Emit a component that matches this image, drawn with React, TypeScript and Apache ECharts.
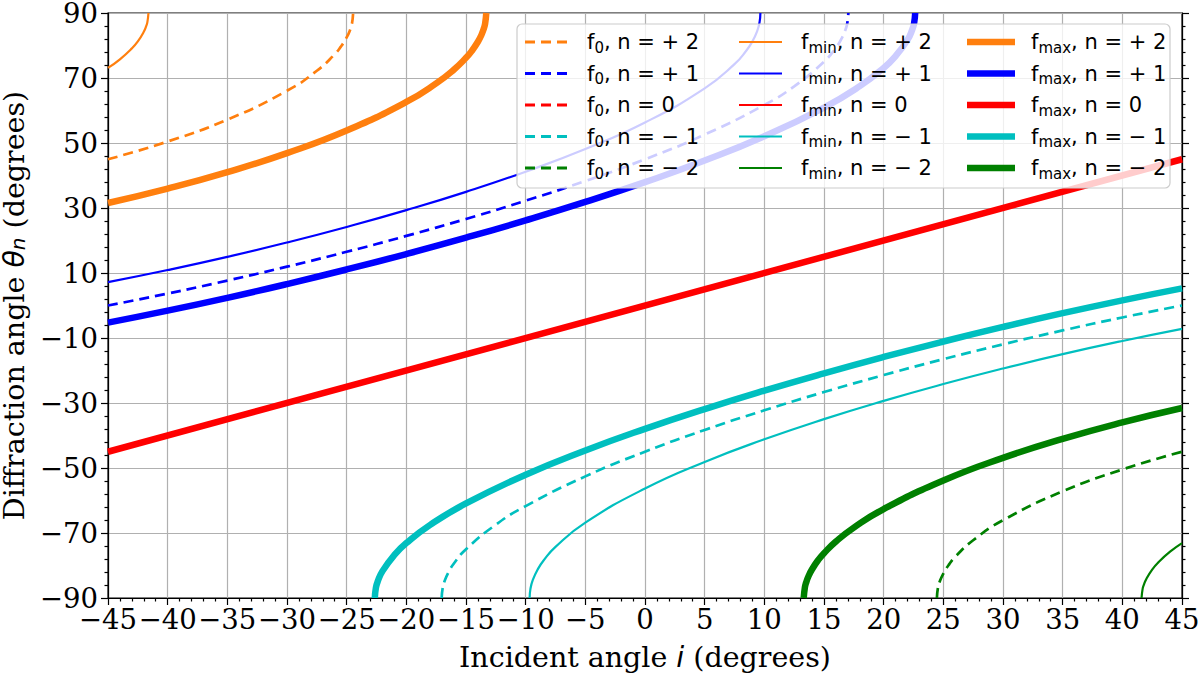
import React, { useEffect, useRef } from "react";
import * as echarts from "echarts";

// ---- axis ticks ----
const X_MIN = -45;
const X_MAX = 45;
const X_STEP = 5;
const Y_MIN = -90;
const Y_MAX = 90;
const Y_STEP = 20;

// ---- curves: [incident angle, diffraction angle] ----
const f0P2 = [[-45, 44.99], [-40, 50.46], [-35, 57.18], [-30, 66.07], [-27.5, 72.23], [-26, 77.31], [-25.5, 79.58], [-25, 82.48], [-24.7, 84.93], [-24.55, 86.86], [-24.46, 90]];
const f0P1 = [[-45, 0.0], [-40, 3.68], [-35, 7.67], [-30, 11.95], [-25, 16.52], [-20, 21.41], [-15, 26.63], [-10, 32.24], [-5, 38.3], [0, 44.99], [5, 52.58], [10, 61.72], [12.5, 67.43], [15, 75.0], [16, 79.3], [16.5, 82.31], [16.8, 84.87], [16.95, 86.86], [17.04, 90]];
const f0Z = [[-45, -45], [45, 45]];
const f0M1 = [[-17.04, -90], [-16.95, -86.86], [-16.8, -84.87], [-16.5, -82.31], [-16, -79.3], [-15, -75.0], [-12.5, -67.43], [-10, -61.72], [-5, -52.58], [0, -44.99], [5, -38.3], [10, -32.24], [15, -26.63], [20, -21.41], [25, -16.52], [30, -11.95], [35, -7.67], [40, -3.68], [45, 0.0]];
const f0M2 = [[24.46, -90], [24.55, -86.86], [24.7, -84.93], [25, -82.48], [25.5, -79.58], [26, -77.31], [27.5, -72.23], [30, -66.07], [35, -57.18], [40, -50.46], [45, -44.99]];

const fminP2 = [[-45, 73.11], [-44, 75.76], [-43, 79.11], [-42.5, 81.26], [-42, 84.21], [-41.8, 85.95], [-41.7, 87.19], [-41.61, 90]];
const fminP1 = [[-45, 7.18], [-40, 10.91], [-35, 14.97], [-30, 19.39], [-25, 24.17], [-20, 29.34], [-15, 34.97], [-10, 41.18], [-5, 48.14], [0, 56.31], [5, 66.81], [7.5, 74.25], [8.5, 78.46], [9, 81.26], [9.4, 84.44], [9.6, 87.19], [9.67, 90]];
const fminZ = [[-45, -45], [45, 45]];
const fminM1 = [[-9.67, -90], [-9.6, -87.19], [-9.4, -84.44], [-9, -81.26], [-8.5, -78.46], [-7.5, -74.25], [-5, -66.81], [0, -56.31], [5, -48.14], [10, -41.18], [15, -34.97], [20, -29.34], [25, -24.17], [30, -19.39], [35, -14.97], [40, -10.91], [45, -7.18]];
const fminM2 = [[41.61, -90], [41.7, -87.19], [41.8, -85.95], [42, -84.21], [42.5, -81.26], [43, -79.11], [44, -75.76], [45, -73.11]];

const fmaxP2 = [[-45, 31.53], [-40, 35.96], [-35, 41.03], [-30, 46.89], [-25, 53.84], [-20, 62.62], [-17.5, 68.33], [-16, 72.63], [-15, 76.21], [-14.5, 78.4], [-14, 81.16], [-13.7, 83.32], [-13.5, 85.27], [-13.4, 86.66], [-13.3, 90]];
const fmaxP1 = [[-45, -5.28], [-40, -1.59], [-35, 2.37], [-30, 6.6], [-25, 11.09], [-20, 15.84], [-15, 20.87], [-10, 26.19], [-5, 31.86], [0, 37.95], [5, 44.6], [10, 52.06], [15, 60.9], [18, 67.5], [20, 73.1], [21, 76.75], [22, 81.73], [22.4, 84.94], [22.55, 86.86], [22.64, 90]];
const fmaxZ = [[-45, -45], [45, 45]];
const fmaxM1 = [[-22.64, -90], [-22.55, -86.86], [-22.4, -84.94], [-22, -81.73], [-21, -76.75], [-20, -73.1], [-18, -67.5], [-15, -60.9], [-10, -52.06], [-5, -44.6], [0, -37.95], [5, -31.86], [10, -26.19], [15, -20.87], [20, -15.84], [25, -11.09], [30, -6.6], [35, -2.37], [40, 1.59], [45, 5.28]];
const fmaxM2 = [[13.3, -90], [13.4, -86.66], [13.5, -85.27], [13.7, -83.32], [14, -81.16], [14.5, -78.4], [15, -76.21], [16, -72.63], [17.5, -68.33], [20, -62.62], [25, -53.84], [30, -46.89], [35, -41.03], [40, -35.96], [45, -31.53]];

// ---- legend labels ----
const ORDERS = ["+ 2", "+ 1", "0", "− 1", "− 2"];
const ORDER_COLORS = ["#ff7f0e", "#0000ff", "#ff0000", "#00bfbf", "#008000"];
const KINDS = ["0", "min", "max"];
const CURVES = [
  [f0P2, f0P1, f0Z, f0M1, f0M2],
  [fminP2, fminP1, fminZ, fminM1, fminM2],
  [fmaxP2, fmaxP1, fmaxZ, fmaxM1, fmaxM2],
];

const minus = (v: number) => (v < 0 ? "\u2212" + Math.abs(v) : String(v));

const LINE_STYLES = [
  { width: 2.7, type: [10, 6] as any },
  { width: 2.2, type: "solid" as any },
  { width: 6.5, type: "solid" as any },
];

const LEG_LEFT = [525, 739, 967];
const LEG_W = [42, 43, 48];
const LEG_H = [3, 2.2, 6.5];
const LEG_SP = [15, 14, 11];
const LEG_ICON = [
  "path://M0,0H10V3H0Z M16,0H26V3H16Z M32,0H42V3H32Z",
  "rect",
  "rect",
];

const SERIF = "DejaVu Serif";
const SANS = "DejaVu Sans";
const AX_FS = 28.5;
const TICK_FS = 27.5;

function seriesName(k: number, o: number) {
  return "f" + KINDS[k] + ", n = " + ORDERS[o];
}

export default function App() {
  const ref = useRef<HTMLDivElement>(null);
  useEffect(() => {
    if (!ref.current) return;
    const chart = echarts.init(ref.current, null, { renderer: "svg" });

    const series: any[] = [];
    const richLabel: Record<string, string> = {};
    CURVES.forEach((group, k) => {
      group.forEach((data, o) => {
        const name = seriesName(k, o);
        richLabel[name] = "{sp| }{m|f}{s|" + KINDS[k] + "}{m|, n = " + ORDERS[o] + "}";
        series.push({
          type: "line",
          name,
          data,
          showSymbol: false,
          symbol: "none",
          smooth: 0.5,
          xAxisIndex: 0,
          yAxisIndex: 0,
          itemStyle: { color: ORDER_COLORS[o] },
          lineStyle: { color: ORDER_COLORS[o], width: LINE_STYLES[k].width, type: LINE_STYLES[k].type, cap: "butt" },
          emphasis: { disabled: true },
          z: 2 + k,
        });
      });
    });

    const legends = KINDS.map((_, k) => ({
      orient: "vertical",
      left: LEG_LEFT[k],
      top: 29,
      padding: 0,
      itemGap: 5.5,
      itemWidth: LEG_W[k],
      itemHeight: LEG_H[k],
      selectedMode: false,
      z: 60,
      itemStyle: { borderWidth: 0 },
      data: ORDERS.map((_o, o) => ({
        name: seriesName(k, o),
        icon: LEG_ICON[k],
        itemStyle: { color: ORDER_COLORS[o], borderWidth: 0 },
      })),
      formatter: (name: string) => richLabel[name],
      textStyle: {
        color: "#000",
        fontFamily: SANS,
        fontSize: 21,
        lineHeight: 26,
        rich: {
          sp: { width: LEG_SP[k], fontSize: 21, lineHeight: 26 },
          m: { fontFamily: SANS, fontSize: 21, lineHeight: 26, color: "#000" },
          s: { fontFamily: SANS, fontSize: 15, lineHeight: 14, verticalAlign: "bottom", color: "#000" },
        },
      },
    }));

    const tickStyle = { color: "#000", width: 1.2 };
    const option: any = {
      animation: false,
      backgroundColor: "#ffffff",
      grid: {
        left: 108,
        right: 18,
        top: 13,
        bottom: 80,
        containLabel: false,
        outerBoundsMode: "none",
        show: true,
        borderColor: "#000",
        borderWidth: 1.2,
        backgroundColor: "transparent",
      },
      xAxis: [
        {
          type: "value",
          min: X_MIN,
          max: X_MAX,
          interval: X_STEP,
          name: "{a|Incident angle }{b|i}{a| (degrees)}",
          nameLocation: "middle",
          nameGap: 43,
          nameTextStyle: {
            color: "#000",
            fontFamily: SERIF,
            fontSize: AX_FS,
            rich: {
              a: { fontFamily: SERIF, fontSize: AX_FS, lineHeight: 33, color: "#000" },
              b: { fontFamily: SANS, fontStyle: "italic", fontSize: AX_FS, lineHeight: 33, color: "#000" },
            },
          },
          axisLine: { show: true, onZero: false, lineStyle: tickStyle },
          axisTick: { show: true, inside: false, length: 7, lineStyle: tickStyle },
          minorTick: { show: true, splitNumber: 5, length: 3.5, lineStyle: tickStyle },
          splitLine: { show: true, lineStyle: { color: "#b0b0b0", width: 1.2 } },
          axisLabel: {
            color: "#000",
            fontFamily: SERIF,
            fontSize: TICK_FS,
            lineHeight: 24,
            margin: 9,
            showMinLabel: true,
            showMaxLabel: true,
            hideOverlap: false,
            formatter: minus,
          },
        },
      ],
      yAxis: [
        {
          type: "value",
          min: Y_MIN,
          max: Y_MAX,
          interval: Y_STEP,
          name: "{a|Diffraction angle }{t|θ}{s|n}{a| (degrees)}",
          nameLocation: "middle",
          nameGap: 79,
          nameTextStyle: {
            color: "#000",
            fontFamily: SERIF,
            fontSize: AX_FS,
            rich: {
              a: { fontFamily: SERIF, fontSize: AX_FS, lineHeight: 26, color: "#000" },
              t: { fontFamily: SANS, fontStyle: "italic", fontSize: AX_FS, lineHeight: 26, color: "#000" },
              s: { fontFamily: SANS, fontStyle: "italic", fontSize: 20, lineHeight: 14, verticalAlign: "bottom", color: "#000" },
            },
          },
          axisLine: { show: true, onZero: false, lineStyle: tickStyle },
          axisTick: { show: true, inside: false, length: 7, lineStyle: tickStyle },
          minorTick: { show: true, splitNumber: 5, length: 3.5, lineStyle: tickStyle },
          splitLine: { show: true, lineStyle: { color: "#b0b0b0", width: 1.2 } },
          axisLabel: {
            color: "#000",
            fontFamily: SERIF,
            fontSize: TICK_FS,
            lineHeight: 20,
            margin: 10,
            showMinLabel: true,
            showMaxLabel: true,
            hideOverlap: false,
            formatter: minus,
          },
        },
        {
          type: "value",
          position: "right",
          min: Y_MIN,
          max: Y_MAX,
          interval: Y_STEP,
          axisLine: { show: true, onZero: false, lineStyle: tickStyle },
          axisTick: { show: true, inside: false, length: 7, lineStyle: tickStyle },
          minorTick: { show: true, splitNumber: 5, length: 3.5, lineStyle: tickStyle },
          splitLine: { show: false },
          axisLabel: { show: false },
        },
      ],
      legend: legends,
      graphic: [
        {
          type: "rect",
          z: 50,
          silent: true,
          shape: { x: 517, y: 24, width: 653, height: 164, r: 5 },
          style: { fill: "rgba(255,255,255,0.8)", stroke: "#cccccc", lineWidth: 1.2 },
        },
      ],
      series,
    };
    chart.setOption(option);
    return () => chart.dispose();
  }, []);
  return (
    <div
      ref={ref}
      style={{ position: "absolute", left: 0, top: 0, width: 1200, height: 678, background: "#fff" }}
    />
  );
}
